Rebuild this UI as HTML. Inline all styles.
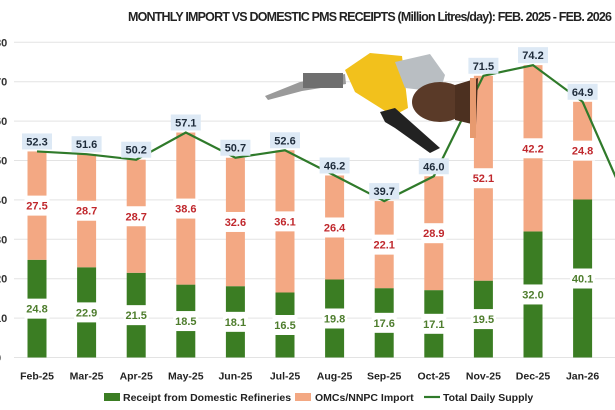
<!DOCTYPE html>
<html><head><meta charset="utf-8"><style>
html,body{margin:0;padding:0;background:#fff;width:615px;height:410px;overflow:hidden}
svg{display:block;font-family:"Liberation Sans",sans-serif}
</style></head><body>
<svg id="c" width="615" height="410" viewBox="0 0 615 410" xmlns="http://www.w3.org/2000/svg"></svg>
<script>
const g=[24.8,22.9,21.5,18.5,18.1,16.5,19.8,17.6,17.1,19.5,32.0,40.1];
const o=[27.5,28.7,28.7,38.6,32.6,36.1,26.4,22.1,28.9,52.1,42.2,24.8];
const t=[52.3,51.6,50.2,57.1,50.7,52.6,46.2,39.7,46.0,71.5,74.2,64.9];
const m=["Feb-25","Mar-25","Apr-25","May-25","Jun-25","Jul-25","Aug-25","Sep-25","Oct-25","Nov-25","Dec-25","Jan-26"];
const Y0=357.5,K=3.94,X0=37,DX=49.6,W=19;
const y=v=>Y0-v*K;
let s='';
s+='<text x="370" y="21" text-anchor="middle" font-size="12.5" font-weight="bold" fill="#222" textLength="484">MONTHLY IMPORT VS DOMESTIC PMS RECEIPTS (Million Litres/day): FEB. 2025 - FEB. 2026</text>';
for(let i=0;i<=8;i++){const yy=y(i*10);s+=`<line x1="14" x2="615" y1="${yy}" y2="${yy}" stroke="#e3e3e3" stroke-width="1"/>`;s+=`<text x="-5" y="${yy+4}" font-size="11" font-weight="bold" fill="#333">${i*10}</text>`;}
for(let i=0;i<12;i++){
 const cx=X0+i*DX,x=cx-W/2;
 const gt=y(g[i]),gm=(Y0+gt)/2;
 s+=`<rect x="${x}" y="${gt}" width="${W}" height="${Y0-gt}" fill="#3b7d23"/>`;
 s+=`<rect x="${x-3}" y="${gm-10}" width="${W+6}" height="20" fill="#fff"/>`;
 s+=`<text x="${cx}" y="${gm+4}" text-anchor="middle" font-size="11" font-weight="bold" fill="#4e7d2d">${g[i].toFixed(1)}</text>`;
 const tt=y(t[i]),om=(gt+tt)/2;
 s+=`<rect x="${x}" y="${tt}" width="${W}" height="${gt-tt}" fill="#f3a883"/>`;
 s+=`<rect x="${x-3}" y="${om-10}" width="${W+6}" height="20" fill="#fff"/>`;
 s+=`<text x="${cx}" y="${om+4}" text-anchor="middle" font-size="11" font-weight="bold" fill="#c0282d">${o[i].toFixed(1)}</text>`;
 s+=`<text x="${cx}" y="${Y0+22}" text-anchor="middle" font-size="10.5" font-weight="bold" fill="#222">${m[i]}</text>`;
}
let pts=t.map((v,i)=>`${X0+i*DX},${y(v)}`).join(' ')+` 632,214`;
s+=`<polyline points="${pts}" fill="none" stroke="#2f7a2a" stroke-width="2.2"/>`;
// nozzle image
s+=`<g>
<path d="M265,96 L300,82 L345,74 L346,84 L302,91 L268,100 Z" fill="#9a9a9a"/>
<rect x="303" y="73" width="40" height="15" fill="#6f6f6f"/>
<path d="M345,70 L370,53 L402,56 L408,108 L393,116 L355,92 Z" fill="#f2c11c"/>
<path d="M380,112 L395,108 L440,148 L430,153 L395,128 L385,122 Z" fill="#222"/>
<path d="M395,62 L430,54 L445,75 L440,92 L405,88 Z" fill="#b9bec2"/>
<ellipse cx="440" cy="102" rx="28" ry="20" fill="#5a3a28"/>
<path d="M455,85 L478,78 L476,125 L455,120 Z" fill="#4c3020"/>
<rect x="470" y="78" width="6" height="60" fill="#e79a6f"/>
</g>`;
for(let i=0;i<12;i++){
 const cx=X0+i*DX,tt=y(t[i]);
 s+=`<rect x="${cx-15}" y="${tt-18}" width="30" height="16" fill="#dde9f5"/>`;
 s+=`<text x="${cx}" y="${tt-6}" text-anchor="middle" font-size="11" font-weight="bold" fill="#1e2b3a">${t[i].toFixed(1)}</text>`;
}
s+=`<rect x="104" y="393" width="16" height="8" fill="#3b7d23"/><text x="123" y="401" font-size="10.5" font-weight="bold" fill="#222">Receipt from Domestic Refineries</text>`;
s+=`<rect x="295" y="393" width="16" height="8" fill="#f3a883"/><text x="315" y="401" font-size="10.5" font-weight="bold" fill="#222">OMCs/NNPC Import</text>`;
s+=`<line x1="424" x2="440" y1="397" y2="397" stroke="#2f7a2a" stroke-width="2.2"/><text x="443" y="401" font-size="10.5" font-weight="bold" fill="#222">Total Daily Supply</text>`;
document.getElementById('c').innerHTML=s;
</script>
</body></html>
